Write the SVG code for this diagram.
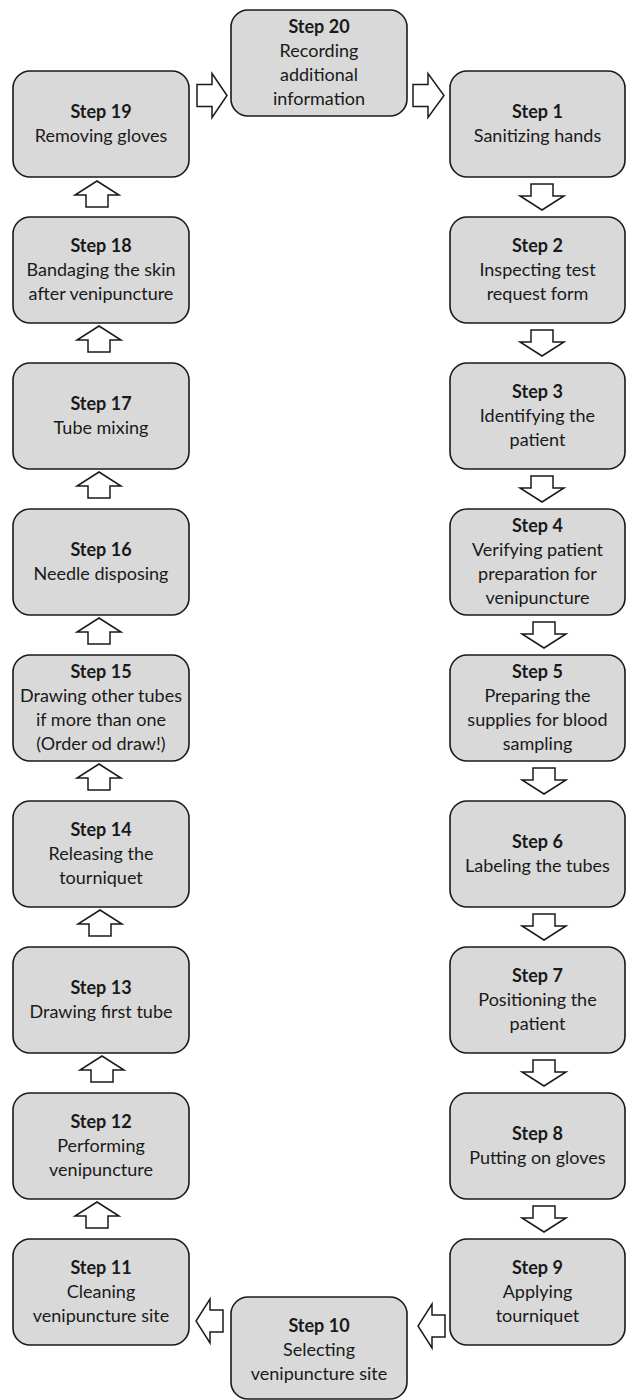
<svg xmlns="http://www.w3.org/2000/svg" width="630" height="1400" viewBox="0 0 630 1400">
<style>
.box{fill:#d9d9d9;stroke:#1a1a1a;stroke-width:1.6}
.arr{fill:#ffffff;stroke:#1a1a1a;stroke-width:1.5;stroke-linejoin:miter}
text{font-family:Lato,"Liberation Sans",sans-serif;font-size:18px;fill:#1a1a1a;text-anchor:middle}
.b{font-weight:bold}
</style>
<rect width="630" height="1400" fill="#ffffff"/>
<g id="connectors">
<path class="arr" d="M197,84.5 H212 V73.5 L227,95.5 L212,117.5 V106.5 H197 Z"/>
<path class="arr" d="M413,84.5 H428 V73.5 L444,95.5 L428,117.5 V106.5 H413 Z"/>
<path class="arr" d="M531,184 H553 V196 H564 L542,210 L520,196 H531 Z"/>
<path class="arr" d="M531,330 H553 V342 H564 L542,356 L520,342 H531 Z"/>
<path class="arr" d="M531,476 H553 V488 H564 L542,502 L520,488 H531 Z"/>
<path class="arr" d="M533,622 H555 V634 H566 L544,648 L522,634 H533 Z"/>
<path class="arr" d="M533,768 H555 V780 H566 L544,794 L522,780 H533 Z"/>
<path class="arr" d="M533,914 H555 V926 H566 L544,940 L522,926 H533 Z"/>
<path class="arr" d="M533,1060 H555 V1072 H566 L544,1086 L522,1072 H533 Z"/>
<path class="arr" d="M533,1206 H555 V1218 H566 L544,1232 L522,1218 H533 Z"/>
<path class="arr" d="M445,1315 H432 V1304 L418,1326 L432,1348 V1337 H445 Z"/>
<path class="arr" d="M223,1310 H210 V1299 L196,1321 L210,1343 V1332 H223 Z"/>
<path class="arr" d="M97,1202 L119,1216 H108 V1228 H86 V1216 H75 Z"/>
<path class="arr" d="M102,1056 L124,1070 H113 V1082 H91 V1070 H80 Z"/>
<path class="arr" d="M100,910 L122,924 H111 V936 H89 V924 H78 Z"/>
<path class="arr" d="M99,764 L121,778 H110 V790 H88 V778 H77 Z"/>
<path class="arr" d="M99,618 L121,632 H110 V644 H88 V632 H77 Z"/>
<path class="arr" d="M99,472 L121,486 H110 V498 H88 V486 H77 Z"/>
<path class="arr" d="M99,326 L121,340 H110 V352 H88 V340 H77 Z"/>
<path class="arr" d="M97,181 L119,195 H108 V207 H86 V195 H75 Z"/>
</g>
<g id="step20"><rect class="box" x="231" y="10" width="176" height="106" rx="17"/><text x="319" y="33" class="b">Step 20</text><text x="319" y="57">Recording</text><text x="319" y="81">additional</text><text x="319" y="105">information</text></g>
<g id="step1"><rect class="box" x="450" y="71" width="175" height="106" rx="17"/><text x="537.5" y="118" class="b">Step 1</text><text x="537.5" y="142">Sanitizing hands</text></g>
<g id="step2"><rect class="box" x="450" y="217" width="175" height="106" rx="17"/><text x="537.5" y="252" class="b">Step 2</text><text x="537.5" y="276">Inspecting test</text><text x="537.5" y="300">request form</text></g>
<g id="step3"><rect class="box" x="450" y="363" width="175" height="106" rx="17"/><text x="537.5" y="398" class="b">Step 3</text><text x="537.5" y="422">Identifying the</text><text x="537.5" y="446">patient</text></g>
<g id="step4"><rect class="box" x="450" y="509" width="175" height="106" rx="17"/><text x="537.5" y="532" class="b">Step 4</text><text x="537.5" y="556">Verifying patient</text><text x="537.5" y="580">preparation for</text><text x="537.5" y="604">venipuncture</text></g>
<g id="step5"><rect class="box" x="450" y="655" width="175" height="106" rx="17"/><text x="537.5" y="678" class="b">Step 5</text><text x="537.5" y="702">Preparing the</text><text x="537.5" y="726">supplies for blood</text><text x="537.5" y="750">sampling</text></g>
<g id="step6"><rect class="box" x="450" y="801" width="175" height="106" rx="17"/><text x="537.5" y="848" class="b">Step 6</text><text x="537.5" y="872">Labeling the tubes</text></g>
<g id="step7"><rect class="box" x="450" y="947" width="175" height="106" rx="17"/><text x="537.5" y="982" class="b">Step 7</text><text x="537.5" y="1006">Positioning the</text><text x="537.5" y="1030">patient</text></g>
<g id="step8"><rect class="box" x="450" y="1093" width="175" height="106" rx="17"/><text x="537.5" y="1140" class="b">Step 8</text><text x="537.5" y="1164">Putting on gloves</text></g>
<g id="step9"><rect class="box" x="450" y="1239" width="175" height="106" rx="17"/><text x="537.5" y="1274" class="b">Step 9</text><text x="537.5" y="1298">Applying</text><text x="537.5" y="1322">tourniquet</text></g>
<g id="step10"><rect class="box" x="231" y="1297" width="176" height="102" rx="17"/><text x="319" y="1332" class="b">Step 10</text><text x="319" y="1356">Selecting</text><text x="319" y="1380">venipuncture site</text></g>
<g id="step11"><rect class="box" x="13" y="1239" width="176" height="106" rx="17"/><text x="101" y="1274" class="b">Step 11</text><text x="101" y="1298">Cleaning</text><text x="101" y="1322">venipuncture site</text></g>
<g id="step12"><rect class="box" x="13" y="1093" width="176" height="106" rx="17"/><text x="101" y="1128" class="b">Step 12</text><text x="101" y="1152">Performing</text><text x="101" y="1176">venipuncture</text></g>
<g id="step13"><rect class="box" x="13" y="947" width="176" height="106" rx="17"/><text x="101" y="994" class="b">Step 13</text><text x="101" y="1018">Drawing first tube</text></g>
<g id="step14"><rect class="box" x="13" y="801" width="176" height="106" rx="17"/><text x="101" y="836" class="b">Step 14</text><text x="101" y="860">Releasing the</text><text x="101" y="884">tourniquet</text></g>
<g id="step15"><rect class="box" x="13" y="655" width="176" height="106" rx="17"/><text x="101" y="678" class="b">Step 15</text><text x="101" y="702">Drawing other tubes</text><text x="101" y="726">if more than one</text><text x="101" y="750">(Order od draw!)</text></g>
<g id="step16"><rect class="box" x="13" y="509" width="176" height="106" rx="17"/><text x="101" y="556" class="b">Step 16</text><text x="101" y="580">Needle disposing</text></g>
<g id="step17"><rect class="box" x="13" y="363" width="176" height="106" rx="17"/><text x="101" y="410" class="b">Step 17</text><text x="101" y="434">Tube mixing</text></g>
<g id="step18"><rect class="box" x="13" y="217" width="176" height="106" rx="17"/><text x="101" y="252" class="b">Step 18</text><text x="101" y="276">Bandaging the skin</text><text x="101" y="300">after venipuncture</text></g>
<g id="step19"><rect class="box" x="13" y="71" width="176" height="106" rx="17"/><text x="101" y="118" class="b">Step 19</text><text x="101" y="142">Removing gloves</text></g>
</svg>
